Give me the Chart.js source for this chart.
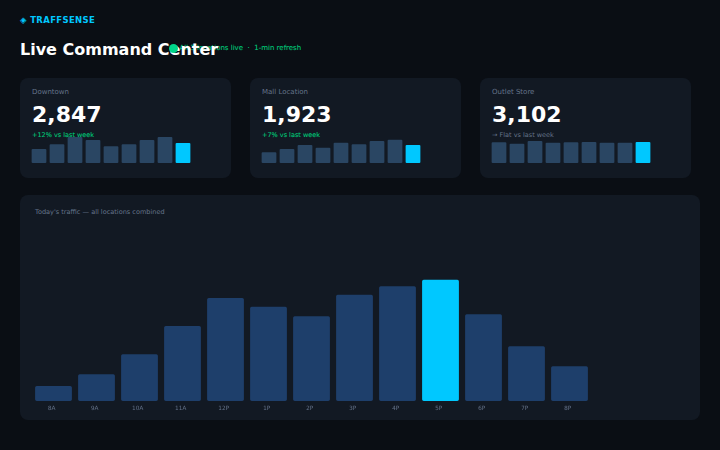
<!DOCTYPE html>
<html><head><meta charset="utf-8">
<script src="https://cdn.jsdelivr.net/npm/chart.js@4"></script>
<style>
*{box-sizing:border-box;margin:0;padding:0}
html,body{width:720px;height:450px;overflow:hidden;background:#0a0e14;font-family:"DejaVu Sans",sans-serif}
.t{position:absolute;white-space:nowrap;line-height:1}
.card{position:absolute;background:#121923;border-radius:8px}
canvas{position:absolute;display:block}
.m{-webkit-text-stroke:.1px currentColor}
</style></head><body>
<div class="t" style="left:20px;top:15.5px;font-size:8.5px;font-weight:700;color:#00c8ff;letter-spacing:.35px">◈ TRAFFSENSE</div>
<div class="t m" style="left:179.5px;top:44.5px;font-size:7px;color:#00c878">All 3 locations live &nbsp;·&nbsp; 1-min refresh</div>
<div class="t" style="left:20px;top:41.5px;font-size:16px;font-weight:700;color:#fff">Live Command Center</div>
<div style="position:absolute;left:169px;top:44px;width:9px;height:9px;border-radius:50%;background:#00d68a"></div>

<div class="card" style="left:20px;top:77.5px;width:211px;height:100.5px"></div>
<div class="card" style="left:250px;top:77.5px;width:211px;height:100.5px"></div>
<div class="card" style="left:480px;top:77.5px;width:211px;height:100.5px"></div>
<div class="card" style="left:20px;top:195px;width:680px;height:225px"></div>

<div class="t" style="left:32px;top:88.5px;font-size:7px;color:#65748a">Downtown</div>
<div class="t" style="left:262px;top:88.5px;font-size:7px;color:#65748a">Mall Location</div>
<div class="t" style="left:492px;top:88.5px;font-size:7px;color:#65748a">Outlet Store</div>
<div class="t" style="left:32px;top:104px;font-size:22px;font-weight:700;color:#fff">2,847</div>
<div class="t" style="left:262px;top:104px;font-size:22px;font-weight:700;color:#fff">1,923</div>
<div class="t" style="left:492px;top:104px;font-size:22px;font-weight:700;color:#fff">3,102</div>
<div class="t m" style="left:32px;top:131.5px;font-size:6.5px;color:#00c878">+12% vs last week</div>
<div class="t m" style="left:262px;top:131.5px;font-size:6.5px;color:#00c878">+7% vs last week</div>
<div class="t" style="left:492px;top:131.5px;font-size:6.5px;color:#65748a">→ Flat vs last week</div>
<div class="t" style="left:35px;top:208.5px;font-size:6.55px;color:#65748a">Today's traffic — all locations combined</div>

<canvas id="s1" style="left:30.35px;top:133px;width:162px;height:30px"></canvas>
<canvas id="s2" style="left:260.35px;top:133px;width:162px;height:30px"></canvas>
<canvas id="s3" style="left:490.35px;top:133px;width:162px;height:30px"></canvas>
<canvas id="main" style="left:32px;top:220px;width:559px;height:201px"></canvas>

<script>
const sparkLabels = ["1","2","3","4","5","6","7","8","9"];
const downtownSpark = [14, 18.7, 26, 23, 16.7, 18.7, 23, 26, 20];
const mallSpark = [10.7, 14, 18, 15.3, 20.3, 18.7, 22, 23.3, 18];
const outletSpark = [20.7, 19.3, 22, 20.3, 20.7, 21, 20.3, 20.3, 21];
const hours = ["8A","9A","10A","11A","12P","1P","2P","3P","4P","5P","6P","7P","8P"];
const traffic = [150, 267, 467, 750, 1030, 943, 847, 1063, 1147, 1213, 867, 547, 347];
const peakHour = "5P";
const BAR = "#1e3f6b", SPARK = "#2a4663", HI = "#00c8ff";

function spark(id, vals){
  new Chart(document.getElementById(id), {
    type:"bar",
    data:{labels:sparkLabels, datasets:[{data:vals, borderRadius:1, borderSkipped:false,
      backgroundColor:vals.map((v,i)=>i===vals.length-1?HI:SPARK),
      categoryPercentage:1, barPercentage:0.82}]},
    options:{responsive:false, animation:false, devicePixelRatio:2,
      layout:{padding:0},
      plugins:{legend:{display:false},tooltip:{enabled:false}},
      scales:{x:{display:false},y:{display:false,min:0,max:30}}}
  });
}
function size(id){const c=document.getElementById(id);c.width=parseInt(c.style.width);c.height=parseInt(c.style.height);}
["s1","s2","s3","main"].forEach(size);
spark("s1",downtownSpark); spark("s2",mallSpark); spark("s3",outletSpark);

new Chart(document.getElementById("main"), {
  type:"bar",
  data:{labels:hours, datasets:[{data:traffic, borderRadius:2, borderSkipped:false,
    backgroundColor:hours.map(h=>h===peakHour?HI:BAR),
    categoryPercentage:1, barPercentage:0.856}]},
  options:{responsive:false, animation:false, devicePixelRatio:2,
    layout:{padding:0},
    plugins:{legend:{display:false},tooltip:{enabled:false}},
    scales:{
      x:{grid:{display:false,drawTicks:false},border:{display:false},
         afterFit(s){s.height=20;},
         ticks:{color:"#65738a",font:{family:"DejaVu Sans",size:5.8},padding:4,labelOffset:-1.8,maxRotation:0,autoSkip:false}},
      y:{display:false,min:0,max:1810}
    }}
});
</script>
</body></html>
